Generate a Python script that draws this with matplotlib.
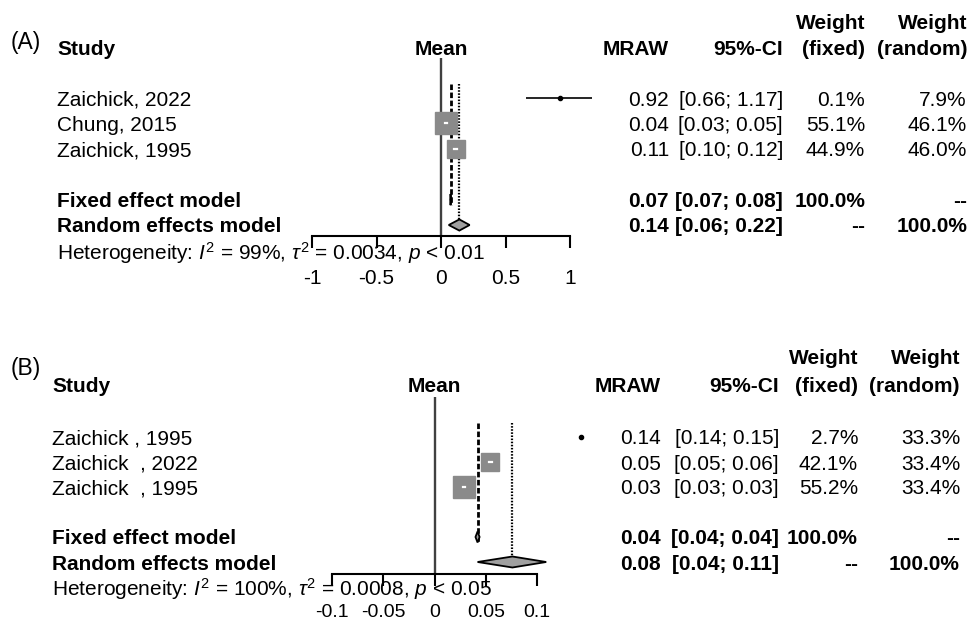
import matplotlib
matplotlib.use("Agg")
import matplotlib.pyplot as plt
from matplotlib import transforms
from matplotlib.patches import Polygon

W, H = 969, 624
plt.rcParams["font.family"] = ["Liberation Sans", "DejaVu Sans"]
plt.rcParams["mathtext.fontset"] = "custom"
plt.rcParams["mathtext.rm"] = "Liberation Sans"
plt.rcParams["mathtext.it"] = "Liberation Sans:italic"
plt.rcParams["mathtext.bf"] = "Liberation Sans:bold"
FS = 15

# ---- panel A data (MRAW, raw mean) ----
A_STUDY = ["Zaichick, 2022", "Chung, 2015", "Zaichick, 1995"]
A_MEAN = [0.92, 0.039, 0.114]
A_LO = [0.66, 0.034, 0.103]
A_HI = [1.17, 0.046, 0.121]
A_WF = [0.1, 55.1, 44.9]
A_WR = [7.9, 46.1, 46.0]
A_FIXED = [0.074, 0.071, 0.078]
A_RANDOM = [0.142, 0.060, 0.222]
A_HET = r"Heterogeneity: $\mathit{I}^2$ = 99%, $\tau^2$ = 0.0034, $\mathit{p}$ < 0.01"
A_TICKS = [-1, -0.5, 0, 0.5, 1]
A_TICKLABELS = ["-1", "-0.5", "0", "0.5", "1"]

# ---- panel B data ----
B_STUDY = ["Zaichick , 1995", "Zaichick  , 2022", "Zaichick  , 1995"]
B_MEAN = [0.143, 0.054, 0.029]
B_LO = [0.141, 0.053, 0.028]
B_HI = [0.146, 0.056, 0.030]
B_WF = [2.7, 42.1, 55.2]
B_WR = [33.3, 33.4, 33.4]
B_FIXED = [0.042, 0.040, 0.044]
B_RANDOM = [0.076, 0.042, 0.109]
B_HET = r"Heterogeneity: $\mathit{I}^2$ = 100%, $\tau^2$ = 0.0008, $\mathit{p}$ < 0.05"
B_TICKS = [-0.1, -0.05, 0, 0.05, 0.1]
B_TICKLABELS = ["-0.1", "-0.05", "0", "0.05", "0.1"]

# layout in pixels of the output image
LAYOUT_A = dict(tag="(A)", row0=98, dy=25.4, x0=312, x1=570, xlim=(-1, 1),
                axis_row=5.43, null_top=-1.57, tag_row=-2.3, head_row=-2.0,
                weight_row=-3.0, study_x=57, cols=(669, 783, 865, 967),
                het_row=5.98, pad=15.5, tick_fs=15)
LAYOUT_B = dict(tag="(B)", row0=437, dy=25.0, x0=332, x1=537, xlim=(-0.1, 0.1),
                axis_row=5.48, null_top=-1.6, tag_row=-2.84, head_row=-2.1,
                weight_row=-3.2, study_x=52, cols=(661, 779, 858, 960),
                het_row=5.95, pad=13, tick_fs=14)

GREY_SQ = "#8a8a8a"
GREY_DIA = "#a0a0a0"


def draw_panel(fig, L, study, mean, lo, hi, wf, wr, fixed, random_, het, ticks, ticklabels):
    r_top, r_bot = -3.6, 7.4
    top_px = L["row0"] + r_top * L["dy"]
    bot_px = L["row0"] + r_bot * L["dy"]
    ax = fig.add_axes([L["x0"] / W, 1 - bot_px / H, (L["x1"] - L["x0"]) / W, (bot_px - top_px) / H])
    ax.set_xlim(*L["xlim"])
    ax.set_ylim(r_bot, r_top)
    ax.patch.set_alpha(0)
    for s in ("top", "left", "right"):
        ax.spines[s].set_visible(False)
    ax.spines["bottom"].set_position(("data", L["axis_row"]))
    ax.spines["bottom"].set_linewidth(1.5)
    ax.set_yticks([])
    ax.set_xticks(ticks)
    ax.set_xticklabels(ticklabels)
    ax.tick_params(axis="x", direction="out", length=8.6, width=1.5, pad=L["pad"],
                   labelsize=L["tick_fs"])

    px_per_unit = (L["x1"] - L["x0"]) / (L["xlim"][1] - L["xlim"][0])
    dh = 0.22
    n = len(study)
    fix_row, ran_row = n + 1, n + 2

    # reference lines
    ax.vlines(0, L["null_top"], L["axis_row"], color="#404040", lw=1.7)
    ax.vlines(fixed[0], -0.55, fix_row + dh, color="black", lw=2.0, linestyles=(0, (2.0, 0.9)))
    ax.vlines(random_[0], -0.55, ran_row - dh, color="black", lw=1.6, linestyles=(0, (0.7, 0.7)))

    # studies
    for i in range(n):
        ax.plot([lo[i], hi[i]], [i, i], color="black", lw=1.2, clip_on=False, zorder=3,
                solid_capstyle="butt")
        ms = 2.04 * wf[i] ** 0.5
        if ms < 4:
            ax.plot(mean[i], i, marker="o", ms=3.0, color="black", clip_on=False, zorder=4)
            continue
        ax.plot(mean[i], i, marker="s", ms=ms, mfc=GREY_SQ, mec=GREY_SQ, clip_on=False, zorder=4)
        if (hi[i] - lo[i]) * px_per_unit < ms * 100 / 72:
            ax.plot([lo[i], hi[i]], [i, i], color="white", lw=1.6, zorder=5,
                    solid_capstyle="projecting")

    # pooled diamonds
    for (m, l, h), r in ((fixed, fix_row), (random_, ran_row)):
        ax.add_patch(Polygon([(l, r), (m, r - dh), (h, r), (m, r + dh)], closed=True,
                             fc=GREY_DIA, ec="black", lw=1.3, zorder=4, clip_on=False))

    # text columns
    tr = transforms.blended_transform_factory(fig.transFigure, ax.transData)
    kw = dict(transform=tr, fontsize=FS, va="center_baseline")
    c_mraw, c_ci, c_wf, c_wr = (c / W for c in L["cols"])
    sx = L["study_x"] / W

    ax.text(11 / W, L["tag_row"], L["tag"], ha="left", transform=tr, fontsize=16.5,
            va="center_baseline")
    ax.text(sx, L["head_row"], "Study", ha="left", fontweight="bold", **kw)
    ax.text(0, L["head_row"], "Mean", ha="center", fontweight="bold", fontsize=FS,
            va="center_baseline")
    ax.text(c_mraw, L["head_row"], "MRAW", ha="right", fontweight="bold", **kw)
    ax.text(c_ci, L["head_row"], "95%-CI", ha="right", fontweight="bold", **kw)
    ax.text(c_wf, L["weight_row"], "Weight", ha="right", fontweight="bold", **kw)
    ax.text(c_wf, L["head_row"], "(fixed)", ha="right", fontweight="bold", **kw)
    ax.text(c_wr, L["weight_row"], "Weight", ha="right", fontweight="bold", **kw)
    ax.text(c_wr, L["head_row"], "(random)", ha="right", fontweight="bold", **kw)

    for i in range(n):
        ax.text(sx, i, study[i], ha="left", **kw)
        ax.text(c_mraw, i, f"{mean[i]:.2f}", ha="right", **kw)
        ax.text(c_ci, i, f"[{lo[i]:.2f}; {hi[i]:.2f}]", ha="right", **kw)
        ax.text(c_wf, i, f"{wf[i]:.1f}%", ha="right", **kw)
        ax.text(c_wr, i, f"{wr[i]:.1f}%", ha="right", **kw)

    pooled = (("Fixed effect model", fixed, fix_row, "100.0%", "--"),
              ("Random effects model", random_, ran_row, "--", "100.0%"))
    for name, (m, l, h), r, w1, w2 in pooled:
        ax.text(sx, r, name, ha="left", fontweight="bold", **kw)
        ax.text(c_mraw, r, f"{m:.2f}", ha="right", fontweight="bold", **kw)
        ax.text(c_ci, r, f"[{l:.2f}; {h:.2f}]", ha="right", fontweight="bold", **kw)
        ax.text(c_wf, r, w1, ha="right", fontweight="bold", **kw)
        ax.text(c_wr, r, w2, ha="right", fontweight="bold", **kw)

    ax.text(sx, L["het_row"], het, ha="left", zorder=6, **kw)
    return ax


fig = plt.figure(figsize=(W / 100, H / 100), dpi=100)
draw_panel(fig, LAYOUT_A, A_STUDY, A_MEAN, A_LO, A_HI, A_WF, A_WR, A_FIXED, A_RANDOM,
           A_HET, A_TICKS, A_TICKLABELS)
draw_panel(fig, LAYOUT_B, B_STUDY, B_MEAN, B_LO, B_HI, B_WF, B_WR, B_FIXED, B_RANDOM,
           B_HET, B_TICKS, B_TICKLABELS)
fig.savefig("out.png", dpi=100)
